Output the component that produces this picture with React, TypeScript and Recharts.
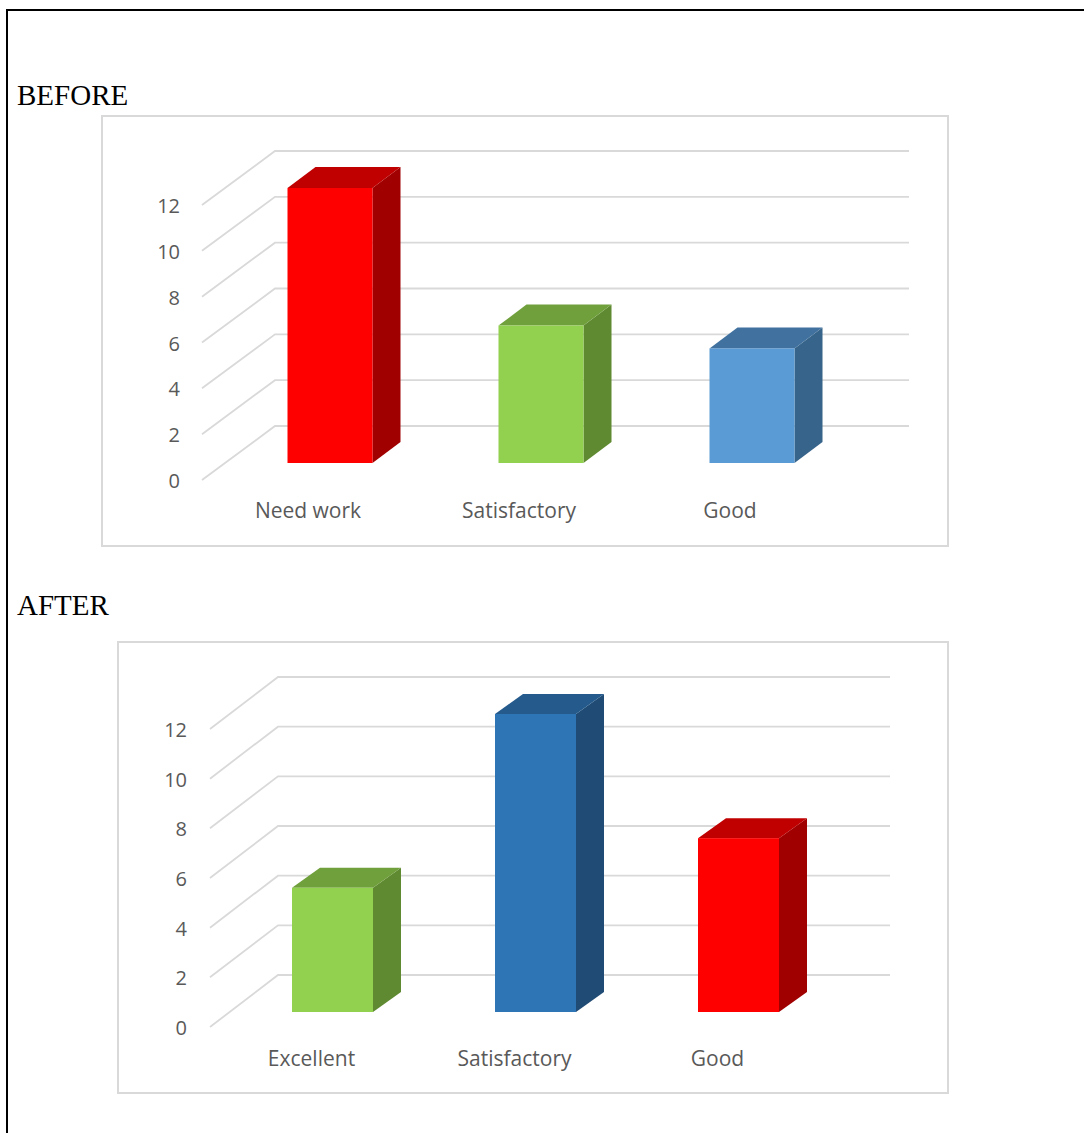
import React from 'react';
import { BarChart, Bar, XAxis, YAxis, CartesianGrid } from 'recharts';

// ---- data ----
const BEFORE_CATEGORIES = ['Need work', 'Satisfactory', 'Good'];
const BEFORE_VALUES = [12, 6, 5];
const AFTER_CATEGORIES = ['Excellent', 'Satisfactory', 'Good'];
const AFTER_VALUES = [5, 12, 7];
const Y_TICKS = [0, 2, 4, 6, 8, 10, 12];
const Y_DOMAIN: [number, number] = [0, 12];

// ---- styles ----
const RED = { front: '#FF0000', top: '#C00000', side: '#A00000' };
const GREEN = { front: '#92D050', top: '#70A03C', side: '#5F8A31' };
const LIGHT_BLUE = { front: '#5B9BD5', top: '#41729F', side: '#37648A' };
const DARK_BLUE = { front: '#2E75B6', top: '#245A8C', side: '#1F4B75' };
const BEFORE_COLORS = [RED, GREEN, LIGHT_BLUE];
const AFTER_COLORS = [GREEN, DARK_BLUE, RED];

const GRID_COLOR = '#d9d9d9';
const TEXT_COLOR = '#595959';
const TICK_FONT = '"Open Sans", "Noto Sans", sans-serif';

type Geo = {
  left: number;
  top: number;
  width: number;
  height: number;
  margin: { top: number; right: number; bottom: number; left: number };
  yAxisWidth: number;
  xAxisHeight: number;
  barSize: number;
  frontOff: number;
  backOff: number;
  frontX: number;
  backX: number;
  endX: number;
  labelRight: number;
  catShift: number;
  catBaseline: number;
  depthX: number;
  depthY: number;
};

const GEO_BEFORE: Geo = {
  left: 101,
  top: 115,
  width: 848,
  height: 432,
  margin: { top: 73, right: 91.5, bottom: 54, left: 23.5 },
  yAxisWidth: 100,
  xAxisHeight: 30,
  barSize: 85,
  frontOff: 17,
  backOff: -37,
  frontX: 101,
  backX: 174,
  endX: 808,
  labelRight: 79,
  catShift: -22,
  catBaseline: 403,
  depthX: 28,
  depthY: -21,
};

const GEO_AFTER: Geo = {
  left: 117,
  top: 641,
  width: 832,
  height: 453,
  margin: { top: 73, right: 109, bottom: 52, left: 14 },
  yAxisWidth: 100,
  xAxisHeight: 30,
  barSize: 81,
  frontOff: 15,
  backOff: -37,
  frontX: 93,
  backX: 161,
  endX: 773,
  labelRight: 70,
  catShift: -21,
  catBaseline: 425,
  depthX: 28,
  depthY: -20,
};

type Face = { front: string; top: string; side: string };

const makeBarShape = (g: Geo, colors: Face[]) => (p: any) => {
  const { x, y, width, height, index } = p;
  const c = colors[index % colors.length];
  const dx = g.depthX;
  const dy = g.depthY;
  const top = `${x},${y} ${x + dx},${y + dy} ${x + width + dx},${y + dy} ${x + width},${y}`;
  const side = `${x + width},${y} ${x + width + dx},${y + dy} ${x + width + dx},${y + height + dy} ${x + width},${y + height}`;
  return (
    <g>
      <polygon points={side} fill={c.side} />
      <polygon points={top} fill={c.top} />
      <rect x={x} y={y} width={width} height={height} fill={c.front} />
    </g>
  );
};

const makeGridLine = (g: Geo) => (p: any) => {
  const y = p.y1;
  const fy = y + g.frontOff;
  const by = y + g.backOff;
  return (
    <polyline
      key={p.key ?? `grid-${p.index}`}
      points={`${g.frontX},${fy} ${g.backX},${by} ${g.endX},${by}`}
      fill="none"
      stroke={GRID_COLOR}
      strokeWidth={1.8}
    />
  );
};

const makeYTick = (g: Geo) => (p: any) => (
  <text
    x={g.labelRight}
    y={p.y + g.frontOff + 8}
    textAnchor="end"
    fontFamily={TICK_FONT}
    fontSize={20}
    fill={TEXT_COLOR}
  >
    {p.payload.value}
  </text>
);

const makeXTick = (g: Geo) => (p: any) => (
  <text
    x={p.x + g.catShift}
    y={g.catBaseline}
    textAnchor="middle"
    fontFamily={TICK_FONT}
    fontSize={21}
    fill={TEXT_COLOR}
  >
    {p.payload.value}
  </text>
);

function Chart3D({ g, categories, values, colors }: { g: Geo; categories: string[]; values: number[]; colors: Face[] }) {
  const data = categories.map((name, i) => ({ name, value: values[i] }));
  return (
    <>
      <div
        style={{
          position: 'absolute',
          left: g.left,
          top: g.top,
          width: g.width,
          height: g.height,
          boxSizing: 'border-box',
          border: `2px solid ${GRID_COLOR}`,
          background: '#fff',
        }}
      />
      <div style={{ position: 'absolute', left: g.left, top: g.top }}>
        <BarChart width={g.width} height={g.height} data={data} margin={g.margin}>
          <CartesianGrid vertical={false} syncWithTicks horizontal={makeGridLine(g) as any} />
          <XAxis
            dataKey="name"
            axisLine={false}
            tickLine={false}
            height={g.xAxisHeight}
            interval={0}
            tick={makeXTick(g)}
          />
          <YAxis
            type="number"
            domain={Y_DOMAIN}
            ticks={Y_TICKS}
            interval={0}
            axisLine={false}
            tickLine={false}
            width={g.yAxisWidth}
            tick={makeYTick(g)}
          />
          <Bar dataKey="value" barSize={g.barSize} isAnimationActive={false} shape={makeBarShape(g, colors)} />
        </BarChart>
      </div>
    </>
  );
}

export default function App() {
  return (
    <div style={{ position: 'absolute', left: 0, top: 0, width: 1084, height: 1133, overflow: 'hidden', background: '#fff' }}>
      <div
        style={{
          position: 'absolute',
          left: 6,
          top: 9,
          width: 1078,
          height: 1124,
          boxSizing: 'border-box',
          borderTop: '2px solid #000',
          borderLeft: '2px solid #000',
        }}
      />
      <svg width={1084} height={1133} style={{ position: 'absolute', left: 0, top: 0 }}>
        <text x={17} y={105} fontFamily='"Liberation Serif", "Times New Roman", serif' fontSize={29} fill="#000">
          BEFORE
        </text>
        <text x={17} y={615} fontFamily='"Liberation Serif", "Times New Roman", serif' fontSize={29} fill="#000">
          AFTER
        </text>
      </svg>
      <Chart3D g={GEO_BEFORE} categories={BEFORE_CATEGORIES} values={BEFORE_VALUES} colors={BEFORE_COLORS} />
      <Chart3D g={GEO_AFTER} categories={AFTER_CATEGORIES} values={AFTER_VALUES} colors={AFTER_COLORS} />
    </div>
  );
}
